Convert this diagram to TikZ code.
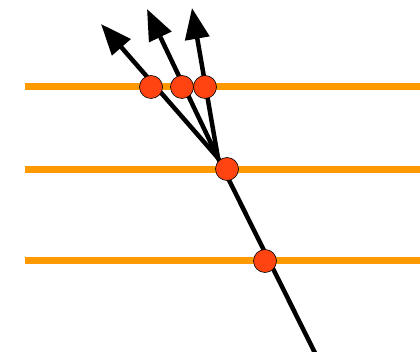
\documentclass[tikz,border=0pt]{standalone}
\usetikzlibrary{arrows.meta}
\definecolor{bandorange}{RGB}{255,153,0}
\definecolor{dotred}{RGB}{255,68,17}
\tikzset{
  band/.style={draw=bandorange,line width=7pt},
  ray/.style={draw=black,line width=4.5pt},
  rayarrow/.style={ray,-{Triangle[length=31pt,width=24pt]}},
  dot/.style={circle,draw=black,line width=0.6pt,fill=dotred,minimum size=23pt,inner sep=0pt}
}
\begin{document}
\begin{tikzpicture}[x=1pt,y=-1pt]
\useasboundingbox (0,0) rectangle (420,352);
% orange bands
\coordinate (l1) at (25,87);  \coordinate (r1) at (420,87);
\coordinate (l2) at (25,170); \coordinate (r2) at (420,170);
\coordinate (l3) at (25,261); \coordinate (r3) at (420,261);
\draw[band] (l1) -- (r1);
\draw[band] (l2) -- (r2);
\draw[band] (l3) -- (r3);
% rays
\coordinate (O) at (218,158);
\coordinate (B) at (315,353);
\coordinate (t1) at (101,24);
\coordinate (t2) at (147,9);
\coordinate (t3) at (192,8);
\draw[ray] (O) -- (B);
\draw[rayarrow] (O) -- (t1);
\draw[rayarrow] (O) -- (t2);
\draw[rayarrow] (O) -- (t3);
% dots
\node[dot] (d1) at (151,87) {};
\node[dot] (d2) at (182,87) {};
\node[dot] (d3) at (205,87) {};
\node[dot] (d4) at (227,169) {};
\node[dot] (d5) at (265,261) {};
\end{tikzpicture}
\end{document}
